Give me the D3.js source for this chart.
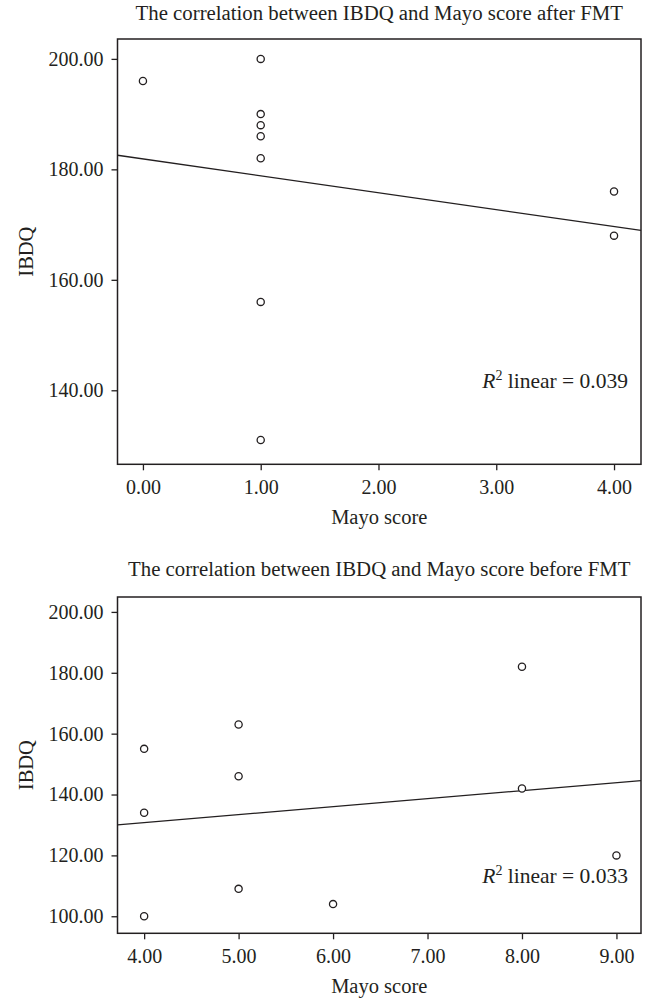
<!DOCTYPE html>
<html>
<head>
<meta charset="utf-8">
<script src="https://cdn.jsdelivr.net/npm/d3@7"></script>
<style>
  body { margin: 0; background: #fff; }
  svg { display: block; }
  text { font-family: 'Liberation Serif', 'DejaVu Serif', serif; fill: #231f20; }
</style>
</head>
<body>
<div id="grafica"></div>
<script>
// datos
mayoAfter   = [0, 1, 1, 1, 1, 1, 4, 4, 1, 1]
ibdqAfter   = [196, 200, 190, 188, 186, 182, 176, 168, 156, 131]
mayoBefore  = [8, 5, 4, 5, 8, 4, 9, 5, 6, 4]
ibdqBefore  = [182, 163, 155, 146, 142, 134, 120, 109, 104, 100]

xTicksAfter  = [0, 1, 2, 3, 4]
yTicksAfter  = [140, 160, 180, 200]
xTicksBefore = [4, 5, 6, 7, 8, 9]
yTicksBefore = [100, 120, 140, 160, 180, 200]

titles = ['The correlation between IBDQ and Mayo score after FMT',
          'The correlation between IBDQ and Mayo score before FMT']

ancho_total = 645
alto_total  = 999

svg = d3.select('#grafica')
        .append('svg')
        .attr('width', ancho_total)
        .attr('height', alto_total)

fmt = d3.format('.2f')

// regresion lineal simple
function ajuste(xs, ys) {
  mx = d3.mean(xs); my = d3.mean(ys)
  sxx = d3.sum(xs, (d) => (d - mx) * (d - mx))
  syy = d3.sum(ys, (d) => (d - my) * (d - my))
  sxy = d3.sum(xs, (d, i) => (d - mx) * (ys[i] - my))
  b = sxy / sxx
  return { a: my - b * mx, b: b, r2: (sxy * sxy) / (sxx * syy) }
}

function panel(cfg) {
  left = 117.5, right = 641
  top_ = cfg.top, bottom = cfg.bottom

  x = d3.scaleLinear().domain(cfg.xDom).range([left, right])
  y = d3.scaleLinear().domain(cfg.yDom).range([bottom, top_])

  g = svg.append('g')

  // titulo
  g.append('text')
    .attr('x', (left + right) / 2)
    .attr('y', cfg.titleY)
    .attr('text-anchor', 'middle')
    .attr('font-size', '20.8px')
    .text(cfg.title)

  // ejes
  yAxis = g.append('g')
    .attr('transform', `translate(${left},0)`)
    .call(d3.axisLeft(y).tickValues(cfg.yTicks).tickFormat(fmt).tickSize(6).tickPadding(8))
  xAxis = g.append('g')
    .attr('transform', `translate(0,${bottom})`)
    .call(d3.axisBottom(x).tickValues(cfg.xTicks).tickFormat(fmt).tickSize(6).tickPadding(10))
  ;[yAxis, xAxis].forEach((ax) => {
    ax.select('.domain').remove()
    ax.selectAll('line').attr('stroke', '#231f20').attr('stroke-width', 1.3)
    ax.selectAll('text')
      .attr('font-size', '20px')
      .attr('font-family', "'Liberation Serif', serif")
      .attr('fill', '#231f20')
  })

  // marco
  g.append('rect')
    .attr('x', left).attr('y', top_)
    .attr('width', right - left).attr('height', bottom - top_)
    .attr('fill', 'none')
    .attr('stroke', '#231f20')
    .attr('stroke-width', 1.5)

  // etiquetas de ejes
  g.append('text')
    .attr('x', (left + right) / 2)
    .attr('y', cfg.xLabelY)
    .attr('text-anchor', 'middle')
    .attr('font-size', '20.5px')
    .text('Mayo score')
  g.append('text')
    .attr('transform', `translate(33,${(top_ + bottom) / 2}) rotate(-90)`)
    .attr('text-anchor', 'middle')
    .attr('font-size', '20.5px')
    .text('IBDQ')

  // recta de regresion
  fit = ajuste(cfg.xs, cfg.ys)
  g.append('line')
    .attr('x1', x(cfg.xDom[0])).attr('y1', y(fit.a + fit.b * cfg.xDom[0]))
    .attr('x2', x(cfg.xDom[1])).attr('y2', y(fit.a + fit.b * cfg.xDom[1]))
    .attr('stroke', '#231f20')
    .attr('stroke-width', 1.3)

  // puntos
  g.selectAll('circle')
    .data(cfg.xs.map((d, i) => ({ m: d, q: cfg.ys[i] })))
    .enter()
    .append('circle')
    .attr('cx', (d) => x(d.m))
    .attr('cy', (d) => y(d.q))
    .attr('r', 3.6)
    .attr('fill', '#fff')
    .attr('stroke', '#231f20')
    .attr('stroke-width', 1.3)

  // R2
  r2 = g.append('text')
    .attr('x', 628)
    .attr('y', cfg.r2Y)
    .attr('text-anchor', 'end')
    .attr('font-size', '21.5px')
  r2.append('tspan').attr('font-style', 'italic').text('R')
  r2.append('tspan').attr('font-size', '14px').attr('dy', -8).text('2')
  r2.append('tspan').attr('dy', 8).text(' linear = ' + fit.r2.toFixed(3))
}

panel({ title: titles[0], titleY: 20, top: 39, bottom: 464.3,
        xDom: [-0.216, 4.229], yDom: [126.6, 203.6],
        xTicks: xTicksAfter, yTicks: yTicksAfter,
        xs: mayoAfter, ys: ibdqAfter, xLabelY: 524, r2Y: 388 })

panel({ title: titles[1], titleY: 576, top: 597, bottom: 933.3,
        xDom: [3.718, 9.26], yDom: [94.4, 204.9],
        xTicks: xTicksBefore, yTicks: yTicksBefore,
        xs: mayoBefore, ys: ibdqBefore, xLabelY: 993, r2Y: 883 })
</script>
</body>
</html>
